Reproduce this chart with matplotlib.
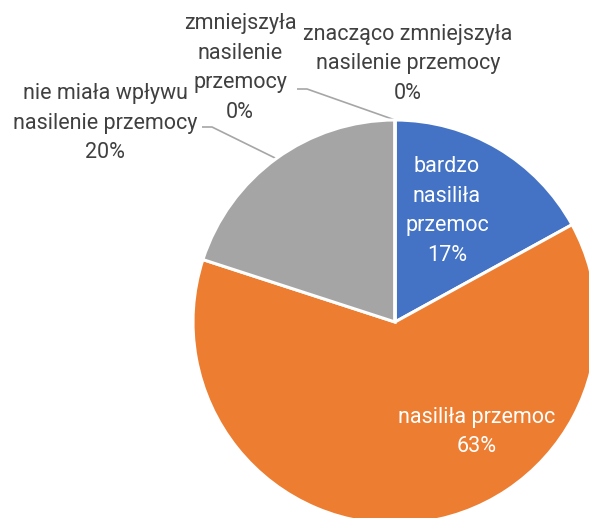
import numpy as np
import matplotlib
matplotlib.use('Agg')
import matplotlib.pyplot as plt

# 数据
categories = ['bardzo\nnasiliła\nprzemoc', 'nasiliła przemoc', 'nie miała wpływu\nnasilenie przemocy',
              'zmniejszyła\nnasilenie\nprzemocy', 'znacząco zmniejszyła\nnasilenie przemocy']
values = [17, 63, 20, 0, 0]
colors = ['#4472C4', '#ED7D31', '#A5A5A5', '#FFC000', '#5B9BD5']

plt.rcParams['font.family'] = ['Roboto', 'DejaVu Sans']

W, H = 589, 518
fig = plt.figure(figsize=(W / 100, H / 100), dpi=100)
ax = fig.add_axes([0, 0, 1, 1])

cx, cy, r = 395, H - 322, 202
wedges, _ = ax.pie(values, colors=colors, startangle=90, counterclock=False,
                   center=(cx, cy), radius=r,
                   wedgeprops=dict(edgecolor='white', linewidth=2.2))
ax.set_xlim(0, W)
ax.set_ylim(0, H)
ax.set_aspect('equal')
ax.axis('off')

fs = 15.5
txt_color = '#404040'
# 标签位置 (像素, 以图片顶部为0)
label_pos = [(447, 211), (477, 432), (105, 123), (240, 68), (408, 64)]
inside = [True, True, False, False, False]
# 引线: 标签端点
leader_start = [None, None, (202, 127), (297, 89), None]

for i, (lab, v) in enumerate(zip(categories, values)):
    x, y = label_pos[i]
    col = 'white' if inside[i] else txt_color
    ax.text(x, H - y, f'{lab}\n{v}%', ha='center', va='center', fontsize=fs,
            color=col, linespacing=1.55)
    if leader_start[i] is not None:
        w = wedges[i]
        mid = np.deg2rad((w.theta1 + w.theta2) / 2)
        px, py = cx + r * np.cos(mid), cy + r * np.sin(mid)
        sx, sy = leader_start[i]
        ax.plot([sx, sx + 10, px], [H - sy, H - sy, py], color='#A6A6A6', lw=1.2,
                solid_capstyle='butt', zorder=0.5)

fig.savefig('out.png', dpi=100)
